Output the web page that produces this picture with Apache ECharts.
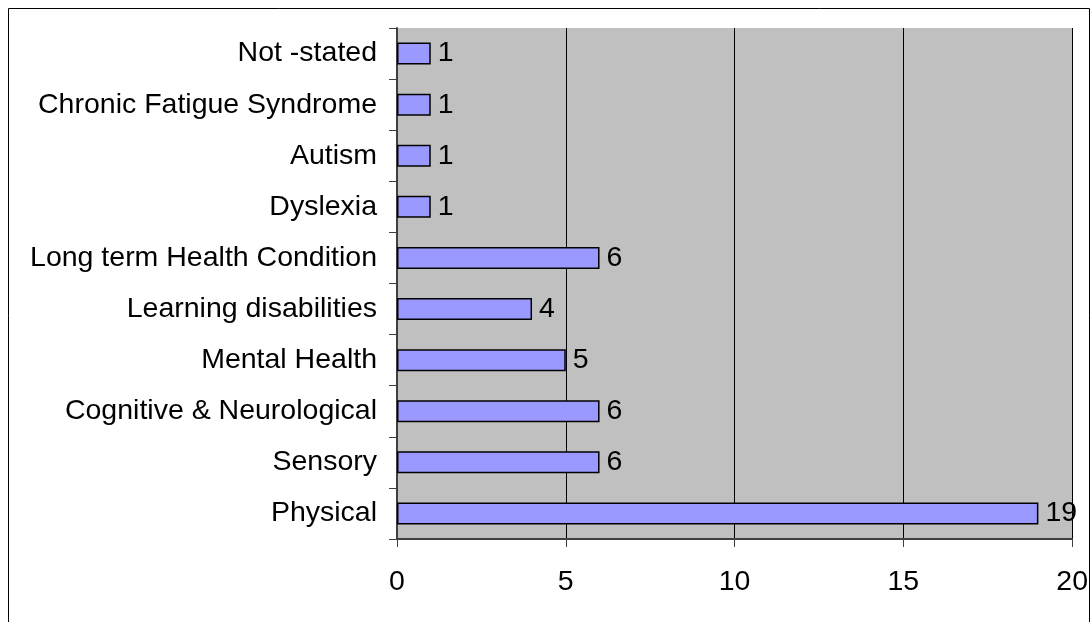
<!DOCTYPE html>
<html>
<head>
<meta charset="utf-8">
<script src="https://cdn.jsdelivr.net/npm/echarts@6/dist/echarts.min.js"></script>
<style>
  html, body { margin: 0; padding: 0; background: #ffffff; }
  #chart { width: 1091px; height: 622px; }
</style>
</head>
<body>
<div id="chart"></div>
<script>
// Categories listed bottom to top, as drawn on the vertical axis
const categories = [
  'Physical',
  'Sensory',
  'Cognitive & Neurological',
  'Mental Health',
  'Learning disabilities',
  'Long term Health Condition',
  'Dyslexia',
  'Autism',
  'Chronic Fatigue Syndrome',
  'Not -stated'
];
const counts = [19, 6, 6, 5, 4, 6, 1, 1, 1, 1];
const xTicks = [0, 5, 10, 15, 20];

const chart = echarts.init(document.getElementById('chart'), null, { renderer: 'canvas' });

const font = 'Liberation Sans, Arial, sans-serif';
const fontSize = 28.5;

chart.setOption({
  animation: false,
  backgroundColor: '#ffffff',
  graphic: [
    {
      type: 'rect',
      shape: { x: 8.5, y: 8.5, width: 1081, height: 700 },
      style: { fill: 'none', stroke: '#000000', lineWidth: 1 },
      z: -1
    }
  ],
  grid: {
    left: 397,
    right: 18,
    top: 28,
    bottom: 83,
    show: true,
    backgroundColor: '#c0c0c0',
    borderWidth: 0
  },
  xAxis: {
    type: 'value',
    min: xTicks[0],
    max: xTicks[xTicks.length - 1],
    interval: 5,
    axisLine: { show: true, lineStyle: { color: '#404040', width: 2 } },
    axisTick: { show: true, length: 8, lineStyle: { color: '#404040', width: 1 } },
    axisLabel: {
      margin: 29,
      color: '#000000',
      fontFamily: font,
      fontSize: fontSize
    },
    splitLine: { show: true, lineStyle: { color: '#000000', width: 1 } }
  },
  yAxis: {
    type: 'category',
    data: categories,
    axisLine: { show: true, lineStyle: { color: '#404040', width: 2 } },
    axisTick: { show: true, length: 8, alignWithLabel: false, lineStyle: { color: '#404040', width: 1 } },
    axisLabel: {
      margin: 20,
      color: '#000000',
      fontFamily: font,
      fontSize: fontSize
    },
    splitLine: { show: false }
  },
  series: [
    {
      type: 'bar',
      data: counts,
      barWidth: 22,
      itemStyle: {
        color: '#9999ff',
        borderColor: '#000000',
        borderWidth: 1.5
      },
      label: {
        show: true,
        position: 'right',
        distance: 7,
        color: '#000000',
        fontFamily: font,
        fontSize: fontSize
      }
    }
  ]
});
</script>
</body>
</html>
